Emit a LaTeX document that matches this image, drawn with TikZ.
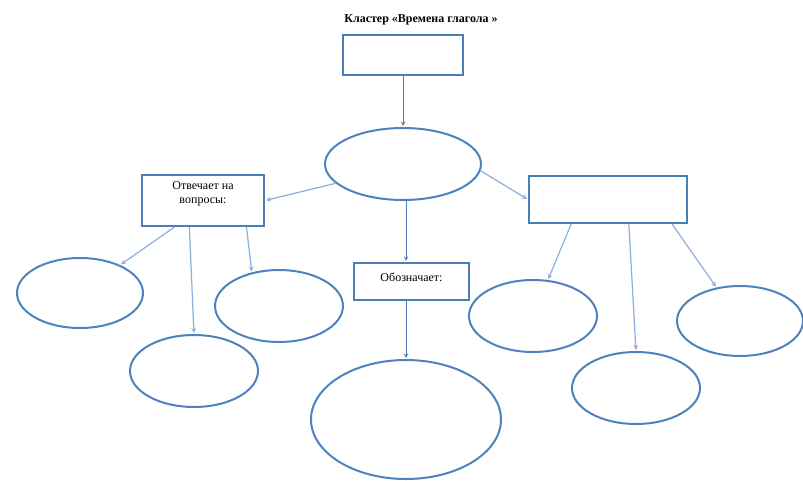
\documentclass[tikz,border=0pt]{standalone}
\usepackage{fontspec}
\setmainfont{Liberation Serif}
\usetikzlibrary{shapes.geometric,calc}
\definecolor{rimblue}{RGB}{74,126,187}
\definecolor{ovalblue}{RGB}{79,129,189}
\definecolor{linkblue}{RGB}{140,174,218}
\begin{document}
\begin{tikzpicture}[x=1pt,y=-1pt,>=stealth,
		box/.style={rectangle,draw=rimblue,line width=2.2pt,fill=white,align=center,font=\fontsize{12}{14}\selectfont},
		oval/.style={ellipse,draw=ovalblue,line width=2pt,minimum width=128pt,minimum height=72pt},
		link/.style={->,draw=linkblue,line width=1.2pt,shorten >=1pt},
		stem/.style={->,draw=rimblue,line width=1pt,shorten >=1pt}]
		\useasboundingbox (0,0) rectangle (803,480);
		% заголовок
		\node (title) at (421,20) {\fontsize{12}{14}\selectfont\bfseries Кластер «Времена глагола »};
		% центр
		\node[box,minimum width=120pt,minimum height=40pt] (top) at (403,55) {};
		\node[oval,minimum width=156pt] (cell) at (403,164) {};
		% ветви
		\node[box,minimum width=122pt,minimum height=51pt,text depth=15pt] (lbox) at (203,200.5) {Отвечает на\\вопросы:};
		\node[box,minimum width=158pt,minimum height=47pt] (rbox) at (608,199.5) {};
		\node[box,minimum width=115pt,minimum height=37pt,text depth=8pt] (mbox) at (411.5,281.5) {Обозначает:};
		% овалы слева
		\node[oval,minimum width=126pt,minimum height=70pt] (e1) at (80,293) {};
		\node[oval] (e2) at (194,371) {};
		\node[oval] (e3) at (279,306) {};
		% овалы справа
		\node[oval] (e4) at (533,316) {};
		\node[oval] (e5) at (636,388) {};
		\node[oval,minimum width=126pt,minimum height=70pt] (e6) at (740,321) {};
		% большой овал
		\node[oval,minimum width=190pt,minimum height=119pt] (big) at (406,419.5) {};

		\path
		(top) edge[stem] (cell)
		(cell.196) edge[link] (lbox.east)
		(cell.-5) edge[link] (rbox.west)
		(cell.south -| big) edge[stem] (mbox.north -| big)
		(mbox.south -| big) edge[stem] (big.north)
		% слева
		($(lbox.south west)!.27!(lbox.south east)$) edge[link] (e1)
		($(lbox.south west)!.39!(lbox.south east)$) edge[link] (e2.north)
		($(lbox.south west)!.85!(lbox.south east)$) edge[link] (e3.129)
		% справа
		($(rbox.south west)!.27!(rbox.south east)$) edge[link] (e4)
		($(rbox.south west)!.63!(rbox.south east)$) edge[link] (e5.north)
		($(rbox.south west)!.9!(rbox.south east)$) edge[link] (e6);
\end{tikzpicture}
\end{document}
